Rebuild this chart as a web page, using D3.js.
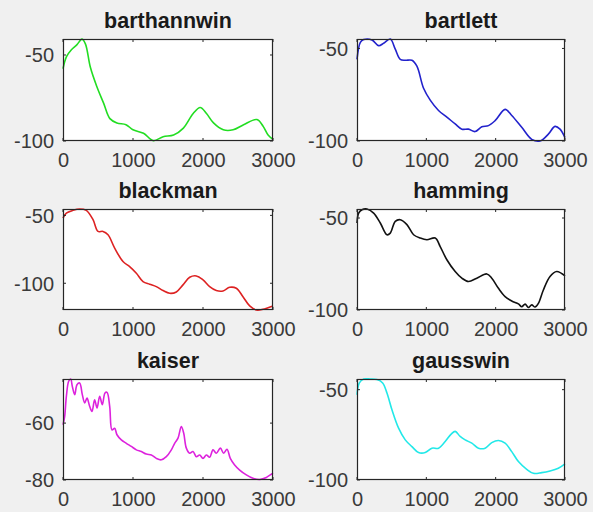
<!DOCTYPE html>
<html>
<head>
<meta charset="utf-8">
<script src="https://cdn.jsdelivr.net/npm/d3@7"></script>
<style>
  html, body { margin: 0; padding: 0; background: #f0f0f0; }
  svg { display: block; }
  text { font-family: "Liberation Sans", Arial, Helvetica, sans-serif; }
</style>
</head>
<body>
<svg id="chart" width="593" height="512"></svg>
<script>
// ---------- data ----------
const titles = ["barthannwin", "bartlett", "blackman", "hamming", "kaiser", "gausswin"];
const colors = ["#22dd22", "#2222cc", "#dd2222", "#111111", "#dd22dd", "#22e8e8"];
const xTicks = [0, 1000, 2000, 3000];
const yTicksList = [[-100, -50], [-100, -50], [-100, -50], [-100, -50], [-80, -60], [-100, -50]];
const yLimits = [[-100, -40.7], [-100, -44.9], [-119.7, -45.3], [-100, -45.1], [-80, -44.5], [-100, -44.1]];

const barthannwinFreq = [0, 50, 120, 200, 270, 320, 390, 480, 580, 670, 770, 900, 1000, 1150, 1290, 1430, 1580, 1720, 1860, 1960, 2050, 2150, 2290, 2430, 2580, 2770, 2860, 2930, 3000];
const barthannwinDb   = [-58, -51, -47, -44, -40.8, -43.5, -57, -68, -78, -87, -89.5, -90.5, -93.5, -95.5, -99.8, -97.5, -96.5, -92.5, -84, -80.5, -84, -89.5, -93.5, -93.5, -90.5, -87.5, -91.5, -96.5, -99];

const bartlettFreq = [0, 48, 96, 216, 312, 384, 480, 552, 624, 696, 792, 864, 960, 1056, 1176, 1296, 1416, 1512, 1608, 1704, 1800, 1896, 1992, 2136, 2232, 2376, 2520, 2640, 2760, 2856, 2928, 3000];
const bartlettDb   = [-55.9, -46.7, -45.2, -45.4, -48.5, -47.2, -44.9, -50.4, -55.9, -56.4, -56.4, -59.6, -71.5, -77.9, -83.5, -87.1, -90.8, -93.6, -93.6, -94.9, -92.3, -91.7, -89, -82.9, -86.2, -92.6, -99.1, -100, -96.3, -92.1, -93.6, -98.2];

const blackmanFreq = [0, 48, 143, 238, 333, 429, 500, 571, 643, 738, 857, 952, 1048, 1143, 1238, 1333, 1429, 1524, 1619, 1714, 1810, 1905, 2000, 2095, 2190, 2286, 2381, 2476, 2571, 2667, 2762, 2857, 2929, 3000];
const blackmanDb   = [-52, -48.3, -46.3, -45.3, -46.3, -53.2, -61.8, -61.8, -64.3, -74.1, -84, -87.7, -92.6, -98.8, -100.7, -102.5, -105.4, -107.4, -106.4, -101.2, -95.6, -94.6, -97.5, -102.5, -105.4, -105.7, -103, -103.7, -109.9, -116.7, -119.7, -119.2, -118, -116.7];

const hammingFreq = [0, 24, 72, 144, 240, 336, 432, 480, 552, 624, 720, 816, 912, 1008, 1128, 1200, 1296, 1416, 1512, 1608, 1728, 1872, 1944, 2040, 2136, 2232, 2328, 2376, 2424, 2472, 2520, 2568, 2616, 2688, 2784, 2880, 3000];
const hammingDb   = [-52.7, -47.3, -45.5, -45.1, -47.3, -52.7, -59.1, -58.2, -51.8, -50.9, -53.6, -59.1, -60.9, -61.8, -60.9, -65.5, -72.7, -79.1, -82.7, -84.5, -82.7, -80.4, -82.7, -88.2, -92.7, -95.1, -96.7, -98.2, -96.8, -98.6, -97.2, -98.4, -96.4, -89.1, -81.8, -79.1, -81.5];

const kaiserFreq = [0, 24, 48, 81, 110, 133, 167, 200, 238, 276, 310, 343, 381, 414, 452, 486, 524, 562, 600, 629, 667, 700, 738, 771, 833, 905, 976, 1048, 1119, 1190, 1262, 1333, 1405, 1476, 1548, 1595, 1643, 1690, 1724, 1762, 1810, 1857, 1905, 1952, 2000, 2048, 2095, 2143, 2190, 2248, 2295, 2343, 2390, 2452, 2524, 2619, 2714, 2810, 2905, 2962, 3000];
const kaiserDb   = [-60.6, -57.6, -50.6, -45.3, -44.5, -47.1, -50, -46.5, -45.9, -50, -52.9, -51.2, -54.1, -55.9, -51.8, -54.7, -50.6, -53.5, -49.4, -49.2, -54.1, -62.4, -61.8, -64.1, -65.9, -67.1, -68.2, -69.4, -70, -70.9, -71.2, -72.4, -72.9, -71.8, -69.4, -67.1, -65.3, -61.2, -63.5, -68.8, -70.6, -70, -71.8, -71.2, -72.4, -71.2, -72, -69.4, -70.6, -68.8, -70.6, -69.2, -72.4, -74.7, -76.5, -78.2, -79.4, -79.8, -79.1, -78.2, -77.6];

const gausswinFreq = [0, 34, 96, 192, 288, 370, 432, 504, 600, 696, 792, 888, 984, 1080, 1176, 1272, 1358, 1416, 1488, 1560, 1656, 1752, 1848, 1944, 2040, 2136, 2232, 2328, 2448, 2544, 2664, 2784, 2904, 3000];
const gausswinDb   = [-52.8, -46.3, -44.1, -44.1, -44.4, -46.3, -51.9, -61.1, -71.3, -77.8, -81.5, -84.8, -84.8, -82.4, -82.4, -78.7, -74.6, -73.1, -75.9, -77.8, -79.6, -82.4, -82.4, -79.3, -78.1, -79.6, -84.3, -89.8, -94.1, -96.3, -95.9, -95, -93.5, -91.1];

const freqs = [barthannwinFreq, bartlettFreq, blackmanFreq, hammingFreq, kaiserFreq, gausswinFreq];
const dbs   = [barthannwinDb, bartlettDb, blackmanDb, hammingDb, kaiserDb, gausswinDb];

// ---------- layout ----------
const colLeft = [63, 357];
const colRight = [273, 565];
const rowTop = [39, 209, 379];
const rowBottom = [141, 310, 480];
const tickLen = 3;
const axisColor = "#262626";
const labelColor = "#3a3a3a";
const plainFormat = d => String(d);   // MATLAB uses ASCII hyphen-minus

const svg = d3.select("#chart");
svg.append("rect").attr("width", 593).attr("height", 512).attr("fill", "#f0f0f0");

titles.forEach((title, i) => {
  const col = i % 2, row = Math.floor(i / 2);
  const x0 = colLeft[col], x1 = colRight[col];
  const y0 = rowTop[row], y1 = rowBottom[row];

  const x = d3.scaleLinear().domain([0, 3000]).range([x0, x1]);
  const y = d3.scaleLinear().domain(yLimits[i]).range([y1, y0]);

  const g = svg.append("g");

  // axes background
  g.append("rect")
    .attr("x", x0).attr("y", y0)
    .attr("width", x1 - x0).attr("height", y1 - y0)
    .attr("fill", "#ffffff");

  // data line
  const data = freqs[i].map((f, k) => [f, dbs[i][k]]);
  const line = d3.line()
    .x(d => x(d[0]))
    .y(d => y(d[1]))
    .curve(d3.curveCatmullRom.alpha(0.5));
  g.append("path")
    .datum(data)
    .attr("d", line)
    .attr("fill", "none")
    .attr("stroke", colors[i])
    .attr("stroke-width", 1.6)
    .attr("stroke-linejoin", "round");

  // axes: labels via d3 axis, inward ticks drawn separately
  const xAxis = d3.axisBottom(x).tickValues(xTicks).tickSize(0).tickPadding(0).tickFormat(plainFormat);
  const xa = g.append("g").attr("transform", `translate(0,${y1})`).call(xAxis);
  xa.select(".domain").remove();
  xa.selectAll("text")
    .attr("y", 26).attr("dy", null)
    .attr("font-size", 20).attr("fill", labelColor)
    .attr("font-family", '"Liberation Sans", Arial, sans-serif');

  const yAxis = d3.axisLeft(y).tickValues(yTicksList[i]).tickSize(0).tickPadding(0).tickFormat(plainFormat);
  const ya = g.append("g").attr("transform", `translate(${x0},0)`).call(yAxis);
  ya.select(".domain").remove();
  ya.selectAll("text")
    .attr("x", -9).attr("dy", "0.34em")
    .attr("font-size", 20).attr("fill", labelColor)
    .attr("font-family", '"Liberation Sans", Arial, sans-serif');

  // inward tick marks on all four sides
  const tg = g.append("g").attr("stroke", axisColor).attr("stroke-width", 1);
  xTicks.forEach(t => {
    tg.append("line").attr("x1", x(t)).attr("x2", x(t)).attr("y1", y1).attr("y2", y1 - tickLen);
    tg.append("line").attr("x1", x(t)).attr("x2", x(t)).attr("y1", y0).attr("y2", y0 + tickLen);
  });
  yTicksList[i].forEach(t => {
    tg.append("line").attr("x1", x0).attr("x2", x0 + tickLen).attr("y1", y(t)).attr("y2", y(t));
    tg.append("line").attr("x1", x1).attr("x2", x1 - tickLen).attr("y1", y(t)).attr("y2", y(t));
  });

  // box
  g.append("rect")
    .attr("x", x0 + 0.5).attr("y", y0 + 0.5)
    .attr("width", x1 - x0 - 1).attr("height", y1 - y0 - 1)
    .attr("fill", "none").attr("stroke", axisColor).attr("stroke-width", 1.2);

  // title
  g.append("text")
    .attr("x", (x0 + x1) / 2).attr("y", y0 - 11)
    .attr("text-anchor", "middle")
    .attr("font-size", 21.5).attr("font-weight", "bold")
    .attr("fill", "#1a1a1a")
    .text(title);
});
</script>
</body>
</html>
